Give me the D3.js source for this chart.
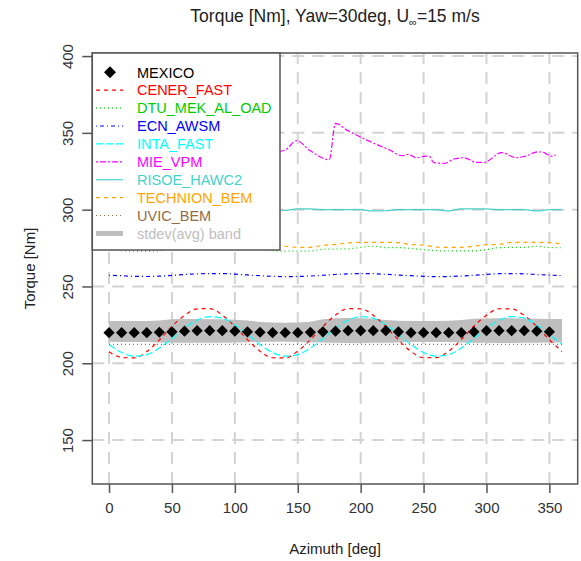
<!DOCTYPE html>
<html>
<head>
<meta charset="utf-8">
<script src="https://cdn.jsdelivr.net/npm/d3@7"></script>
<style>
  html, body { margin: 0; padding: 0; background: #ffffff; }
  svg { display: block; }
  text { font-family: "Liberation Sans", Arial, sans-serif; }
</style>
</head>
<body>
<svg id="chart" width="581" height="561"></svg>
<script>
// ---------------- DATA ----------------
const xTicks = [0, 50, 100, 150, 200, 250, 300, 350];
const yTicks = [150, 200, 250, 300, 350, 400];

const azimuth = [0,10,20,30,40,50,60,70,80,90,100,110,120,130,140,150,160,170,180,
                 190,200,210,220,230,240,250,260,270,280,290,300,310,320,330,340,350,360];

const mexicoAz = [0,10,20,30,40,50,60,70,80,90,100,110,120,130,140,150,160,170,
                  180,190,200,210,220,230,240,250,260,270,280,290,300,310,320,330,340,350];
const mexico = [219.9,219.9,219.9,219.9,220.2,220.5,220.9,221.2,221.2,221.2,220.9,220.5,
                220.2,219.9,219.9,219.9,220.2,220.5,220.9,221.2,221.2,221.2,221.2,220.5,
                219.9,219.9,219.9,219.9,219.9,220.5,221.2,221.2,221.2,221.2,220.9,220.5];

const cenerFast = [207.5,203.8,203.5,207.6,215.2,224.0,231.2,235.4,235.6,231.4,224.0,215.4,
                   207.8,203.6,203.5,207.9,215.3,223.9,231.4,235.6,235.4,231.3,223.8,215.2,
                   207.7,203.6,203.7,207.9,215.4,224.1,231.3,235.5,235.4,231.2,223.9,215.3,207.6];

const dtuMekAlOad = [274.0,273.4,273.0,273.0,273.3,274.2,275.2,275.4,275.3,276.1,275.3,274.6,
                     274.0,273.4,273.0,273.0,273.1,274.2,274.4,274.5,275.4,276.2,275.3,275.3,
                     274.8,274.0,273.3,273.1,273.2,273.2,274.0,275.3,275.4,275.4,276.2,275.3,275.2];

const ecnAwsm = [257.3,257.0,256.6,256.5,256.7,257.2,257.8,258.2,258.4,258.4,258.0,257.5,
                 257.0,256.6,256.4,256.5,256.8,257.3,257.8,258.2,258.4,258.3,257.9,257.4,
                 257.0,256.6,256.4,256.5,256.8,257.3,257.9,258.3,258.4,258.2,257.8,257.4,257.1];

const intaFast = [212.2,207.0,204.6,205.6,209.9,216.1,222.8,228.0,230.4,229.4,225.1,218.9,
                  212.2,207.0,204.6,205.6,209.9,216.1,222.8,228.0,230.4,229.4,225.1,218.9,
                  212.2,207.0,204.6,205.6,209.9,216.1,222.8,228.0,230.4,229.4,225.1,218.9,212.2];

const mieAz = [0,10,20,30,40,50,60,70,80,90,100,110,120,130,140,149,160,175,180,189,205,223,
               233,238,244,252,255,258,267,274,282,292,298,312,324,331,341,345,352,355];
const mieVpm = [336.0,335.2,334.0,333.5,335.5,337.8,339.0,338.2,336.5,335.0,334.2,334.8,
                336.0,337.2,338.8,344.9,338.3,332.5,356.2,351.8,345.3,338.8,
                335.1,336.0,333.8,334.9,334.5,330.6,330.2,333.0,333.8,330.8,330.8,337.1,
                333.8,334.9,337.7,337.3,334.9,335.6];

const risoeHawc2 = [300.0,300.5,300.5,300.3,300.0,300.0,300.0,300.0,300.0,299.3,300.0,300.0,
                    300.0,300.0,299.6,300.5,300.5,300.0,300.0,300.0,300.0,299.2,299.3,300.0,
                    300.0,300.0,300.0,299.2,300.5,300.5,300.5,300.0,300.0,300.0,299.2,300.0,300.0];

const technionBem = [277.6,276.8,275.8,275.5,275.5,276.3,277.3,278.3,278.7,278.7,278.7,278.4,
                     277.4,276.6,276.2,275.5,275.5,276.8,277.4,278.3,278.7,278.7,278.7,278.5,
                     277.3,277.0,275.6,275.5,275.5,276.2,277.2,277.4,278.7,278.7,278.7,278.6,277.6];

const uvicBem = [212.3,212.3,212.3,212.3,212.3,212.3,212.3,212.3,212.3,212.3,212.3,212.3,
                 212.3,212.3,212.3,212.3,212.3,212.3,212.3,212.3,212.3,212.3,212.3,212.3,
                 212.3,212.3,212.3,212.3,212.3,212.3,212.3,212.3,212.3,212.3,212.3,212.3,212.3];

const bandUpper = [227.5,227.5,227.5,227.6,227.8,228.6,228.8,228.8,228.7,228.6,228.4,227.8,
                   226.8,226.5,226.4,226.5,227.0,228.6,229.3,229.4,229.3,229.0,228.2,227.7,
                   227.6,227.6,227.6,227.7,228.2,229.0,229.2,229.3,229.3,229.2,229.0,228.9,228.9];
const bandLower = [214.0,213.9,213.8,213.8,213.6,213.4,213.3,213.3,213.3,213.4,213.5,213.7,
                   213.9,214.0,214.0,213.9,213.7,213.5,213.3,213.2,213.2,213.3,213.4,213.6,
                   213.8,213.9,213.9,213.8,213.6,213.4,213.3,213.2,213.2,213.3,213.4,213.5,213.6];

const seriesNames = ["MEXICO","CENER_FAST","DTU_MEK_AL_OAD","ECN_AWSM","INTA_FAST",
                     "MIE_VPM","RISOE_HAWC2","TECHNION_BEM","UVIC_BEM","stdev(avg) band"];
const seriesColors = ["#000000","#ff0000","#00cd00","#0000ff","#00ffff",
                      "#ff00ff","#48d1cc","#ffa500","#946c45","#bebebe"];
const seriesDash = [null,"4,4","1,3","1,3,4,3","7,3","2,2,6,2",null,"4,4","1,3",null];

// ---------------- LAYOUT ----------------
const svg = d3.select("#chart");
const plot = { left: 92.3, right: 577.7, top: 53, bottom: 484 };

const x = d3.scaleLinear().domain([-13.3, 372.5]).range([plot.left, plot.right]);
const y = d3.scaleLinear().domain([121.4, 402]).range([plot.bottom, plot.top]);

const FONT = 15;
const LEGFONT = 14.5;

// clip
svg.append("defs").append("clipPath").attr("id", "clip")
  .append("rect").attr("x", plot.left).attr("y", plot.top)
  .attr("width", plot.right - plot.left).attr("height", plot.bottom - plot.top);

// grid
const grid = svg.append("g").attr("clip-path", "url(#clip)");
grid.selectAll("line.vg").data(xTicks).enter().append("line")
  .attr("x1", d => x(d)).attr("x2", d => x(d))
  .attr("y1", plot.bottom).attr("y2", plot.top)
  .attr("stroke", "#d3d3d3").attr("stroke-width", 2).attr("stroke-dasharray", "12,8");
grid.selectAll("line.hg").data(yTicks).enter().append("line")
  .attr("x1", plot.left).attr("x2", plot.right)
  .attr("y1", d => y(d)).attr("y2", d => y(d))
  .attr("stroke", "#d3d3d3").attr("stroke-width", 2).attr("stroke-dasharray", "12,8");

const g = svg.append("g").attr("clip-path", "url(#clip)");

// band
const bandData = azimuth.map((a, i) => ({ a, lo: bandLower[i], hi: bandUpper[i] }));
g.append("path").datum(bandData)
  .attr("d", d3.area().x(d => x(d.a)).y0(d => y(d.lo)).y1(d => y(d.hi)))
  .attr("fill", "#bebebe").attr("stroke", "none");

// lines
const lineGen = d3.line().x(d => x(d[0])).y(d => y(d[1]));
const lineSeries = [
  { idx: 1, az: azimuth, v: cenerFast },
  { idx: 2, az: azimuth, v: dtuMekAlOad },
  { idx: 3, az: azimuth, v: ecnAwsm },
  { idx: 4, az: azimuth, v: intaFast },
  { idx: 5, az: mieAz, v: mieVpm },
  { idx: 6, az: azimuth, v: risoeHawc2 },
  { idx: 7, az: azimuth, v: technionBem },
  { idx: 8, az: azimuth, v: uvicBem }
];
lineSeries.forEach(s => {
  g.append("path").datum(s.az.map((a, i) => [a, s.v[i]]))
    .attr("d", lineGen.curve(d3.curveMonotoneX))
    .attr("fill", "none")
    .attr("stroke", seriesColors[s.idx])
    .attr("stroke-width", 1.2)
    .attr("stroke-dasharray", seriesDash[s.idx]);
});

// MEXICO diamonds
const dia = 5.6;
const diamondPath = (cx, cy, r) => `M${cx},${cy - r}L${cx + r},${cy}L${cx},${cy + r}L${cx - r},${cy}Z`;
g.selectAll("path.mex").data(mexicoAz.map((a, i) => [a, mexico[i]])).enter().append("path")
  .attr("d", d => diamondPath(x(d[0]), y(d[1]), dia))
  .attr("fill", "#000000");

// box
svg.append("rect").attr("x", plot.left).attr("y", plot.top)
  .attr("width", plot.right - plot.left).attr("height", plot.bottom - plot.top)
  .attr("fill", "none").attr("stroke", "#555555").attr("stroke-width", 1.5);

// axes
const xAxis = svg.append("g").attr("transform", `translate(0,${plot.bottom})`)
  .call(d3.axisBottom(x).tickValues(xTicks).tickSize(9).tickPadding(9).tickFormat(d3.format("d")));
xAxis.select(".domain").remove();
xAxis.selectAll("line").attr("stroke", "#555555").attr("stroke-width", 1.5);
xAxis.selectAll("text").attr("font-size", FONT).attr("fill", "#333333")
  .style("font-family", "'Liberation Sans', Arial, sans-serif");

const yAxis = svg.append("g").attr("transform", `translate(${plot.left},0)`)
  .call(d3.axisLeft(y).tickValues(yTicks).tickSize(10).tickFormat(d3.format("d")));
yAxis.select(".domain").remove();
yAxis.selectAll("line").attr("stroke", "#555555").attr("stroke-width", 1.5);
yAxis.selectAll("text")
  .attr("x", null).attr("dy", null)
  .attr("text-anchor", "middle")
  .attr("transform", "translate(-19,0) rotate(-90)")
  .attr("y", 0)
  .attr("font-size", FONT).attr("fill", "#333333")
  .style("font-family", "'Liberation Sans', Arial, sans-serif");

// axis titles
svg.append("text").attr("x", (plot.left + plot.right) / 2).attr("y", 554)
  .attr("text-anchor", "middle").attr("font-size", FONT).attr("fill", "#222")
  .text("Azimuth [deg]");
svg.append("text").attr("transform", `translate(35,${(plot.top + plot.bottom) / 2}) rotate(-90)`)
  .attr("text-anchor", "middle").attr("font-size", FONT).attr("fill", "#222")
  .text("Torque [Nm]");

// title
const title = svg.append("text").attr("x", (plot.left + plot.right) / 2).attr("y", 22)
  .attr("text-anchor", "middle").attr("font-size", 17.5).attr("fill", "#222");
title.append("tspan").text("Torque [Nm], Yaw=30deg, U");
title.append("tspan").attr("dy", 4).attr("font-size", 11).text("\u221E");
title.append("tspan").attr("dy", -4).text("=15 m/s");

// legend
const leg = svg.append("g");
leg.append("rect").attr("x", plot.left).attr("y", plot.top)
  .attr("width", 280 - plot.left).attr("height", 250 - plot.top)
  .attr("fill", "#ffffff").attr("stroke", "#555555").attr("stroke-width", 1.5);
seriesNames.forEach((name, i) => {
  const cy = 72.3 + i * 17.9;
  if (i === 0) {
    leg.append("path").attr("d", diamondPath(110, cy, 6)).attr("fill", "#000");
  } else if (i === 9) {
    leg.append("line").attr("x1", 96).attr("x2", 123).attr("y1", cy).attr("y2", cy)
      .attr("stroke", seriesColors[i]).attr("stroke-width", 5);
  } else {
    leg.append("line").attr("x1", 96).attr("x2", 123).attr("y1", cy).attr("y2", cy)
      .attr("stroke", seriesColors[i]).attr("stroke-width", 1.2)
      .attr("stroke-dasharray", seriesDash[i]);
  }
  leg.append("text").attr("x", 137).attr("y", cy + 5.2)
    .attr("font-size", LEGFONT).attr("fill", seriesColors[i] === "#000000" ? "#000" : seriesColors[i])
    .text(name);
});
</script>
</body>
</html>
